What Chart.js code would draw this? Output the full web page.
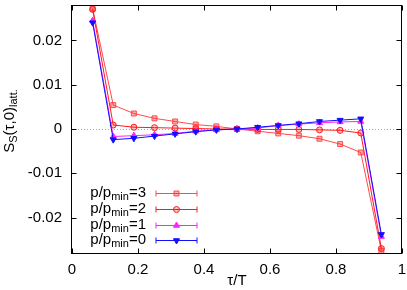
<!DOCTYPE html>
<html>
<head>
<meta charset="utf-8">
<script src="https://cdn.jsdelivr.net/npm/chart.js@4"></script>
<style>
  body { margin: 0; background: #fff; }
  canvas { display: block; }
</style>
</head>
<body>
<canvas id="corrChart" width="407" height="290"></canvas>
<script>
// tau/T values (n/16)
const tau = [0.0625, 0.125, 0.1875, 0.25, 0.3125, 0.375, 0.4375, 0.5,
             0.5625, 0.625, 0.6875, 0.75, 0.8125, 0.875, 0.9375];

// S_S(tau,0)_latt. for each momentum
const p3 = [0.0272, 0.0054, 0.0035, 0.0024, 0.0017, 0.0010, 0.0006, 0.0000,
            -0.0005, -0.0010, -0.0015, -0.0022, -0.0034, -0.0053, -0.0275];
const p2 = [0.0270, 0.0009, 0.0004, 0.0003, 0.0002, 0.0001, 0.0000, 0.0000,
            -0.0001, -0.0001, -0.0001, -0.0002, -0.0003, -0.0009, -0.0270];
const p1 = [0.0245, -0.0017, -0.0015, -0.0013, -0.0010, -0.0005, -0.0002, 0.0000,
            0.0002, 0.0008, 0.0011, 0.0014, 0.0016, 0.0017, -0.0243];
const p0 = [0.0240, -0.0024, -0.0021, -0.0016, -0.0011, -0.0006, -0.0002, 0.0000,
            0.0004, 0.0008, 0.0012, 0.0017, 0.0020, 0.0023, -0.0238];

const seriesLabels = ["3", "2", "1", "0"];
const xTicks = [0, 0.2, 0.4, 0.6, 0.8, 1];
const yTicks = [-0.02, -0.01, 0, 0.01, 0.02];

const FONT = "'Liberation Sans', Arial, sans-serif";

function makeSet(label, values, color, fill, style, rot) {
    return {
        label: label,
        data: tau.map((t, i) => ({ x: t, y: values[i] })),
        borderColor: color,
        backgroundColor: fill,
        borderWidth: 1,
        pointStyle: style,
        pointRotation: rot,
        pointRadius: style === "triangle" ? 3.5 : (style === "rect" ? 3.5 : 3),
        pointBorderWidth: 1,
        pointBorderColor: color,
        pointBackgroundColor: fill,
        tension: 0
    };
}

// draw order: first dataset ends on top
const datasets = [
    makeSet("0", p0, "#1010ff", "#1010ff", "triangle", 180),
    makeSet("1", p1, "#ff22ff", "#ff22ff", "triangle", 0),
    makeSet("2", p2, "#ff1a1a", "rgba(255,0,0,0.25)", "circle", 0),
    makeSet("3", p3, "#ff4a4a", "rgba(255,0,0,0.3)", "rect", 0)
];

// frame, inward ticks, zero line, legend and y title
const decorations = {
    id: "decorations",
    beforeDatasetsDraw(chart) {
        const { ctx, chartArea: a, scales } = chart;
        const y0 = Math.round(scales.y.getPixelForValue(0)) + 0.5;
        ctx.save();
        ctx.strokeStyle = "#a8a8a8";
        ctx.lineWidth = 1;
        ctx.setLineDash([1, 2]);
        ctx.beginPath();
        ctx.moveTo(a.left, y0);
        ctx.lineTo(a.right, y0);
        ctx.stroke();
        ctx.restore();
    },
    afterDraw(chart) {
        const { ctx, chartArea: a, scales } = chart;
        const L = Math.round(a.left) - 0.5, R = Math.round(a.right) - 0.5;
        const T = Math.round(a.top) + 0.5, B = Math.round(a.bottom) + 0.5;
        ctx.save();
        ctx.strokeStyle = "#000";
        ctx.lineWidth = 1;
        ctx.strokeRect(L, T, R - L, B - T);
        ctx.beginPath();
        xTicks.forEach(v => {
            const px = Math.round(scales.x.getPixelForValue(v)) + 0.5;
            ctx.moveTo(px, B); ctx.lineTo(px, B - 5);
            ctx.moveTo(px, T); ctx.lineTo(px, T + 5);
        });
        yTicks.forEach(v => {
            const py = Math.round(scales.y.getPixelForValue(v)) + 0.5;
            ctx.moveTo(L, py); ctx.lineTo(L + 5, py);
            ctx.moveTo(R, py); ctx.lineTo(R - 5, py);
        });
        ctx.stroke();

        // legend
        const rowsFromBottom = [60, 44, 28, 13];
        const order = [3, 2, 1, 0]; // dataset index for p=3,2,1,0
        ctx.fillStyle = "#000";
        ctx.textBaseline = "middle";
        seriesLabels.forEach((lab, k) => {
            const ds = chart.data.datasets[order[k]];
            const yy = a.bottom - rowsFromBottom[k];
            let xr = a.left + 74;
            ctx.textAlign = "right";
            ctx.font = "15px " + FONT;
            const tail = "=" + lab;
            ctx.fillText(tail, xr, yy);
            xr -= ctx.measureText(tail).width;
            ctx.font = "11px " + FONT;
            ctx.fillText("min", xr, yy + 4);
            xr -= ctx.measureText("min").width;
            ctx.font = "15px " + FONT;
            ctx.fillText("p/p", xr, yy);

            const x1 = a.left + 84, x2 = a.left + 125, ly = Math.round(yy) + 0.5;
            ctx.strokeStyle = ds.borderColor;
            ctx.lineWidth = 1;
            ctx.beginPath();
            ctx.moveTo(x1, ly); ctx.lineTo(x2, ly);
            ctx.moveTo(x1, ly - 3); ctx.lineTo(x1, ly + 3);
            ctx.moveTo(x2, ly - 3); ctx.lineTo(x2, ly + 3);
            ctx.stroke();
            ctx.fillStyle = ds.pointBackgroundColor;
            Chart.helpers.drawPoint(ctx, {
                pointStyle: ds.pointStyle,
                rotation: ds.pointRotation,
                radius: ds.pointRadius,
                borderWidth: 1
            }, (x1 + x2) / 2, ly);
            ctx.fillStyle = "#000";
        });

        // y axis title with subscripts
        ctx.translate(10, 121);
        ctx.rotate(-Math.PI / 2);
        const parts = [["S", 15, 0], ["S", 11, 4], ["(\u03c4,0)", 15, 0], ["latt.", 11, 4]];
        let total = 0;
        parts.forEach(p => { ctx.font = p[1] + "px " + FONT; total += ctx.measureText(p[0]).width; });
        let xx = -total / 2;
        ctx.textAlign = "left";
        ctx.fillStyle = "#000";
        parts.forEach(p => {
            ctx.font = p[1] + "px " + FONT;
            ctx.fillText(p[0], xx, p[2]);
            xx += ctx.measureText(p[0]).width;
        });
        ctx.restore();
    }
};

new Chart(document.getElementById("corrChart"), {
    type: "line",
    data: { datasets: datasets },
    options: {
        responsive: false,
        animation: false,
        events: [],
        layout: { padding: { top: 0, right: 3, bottom: 0, left: 0 } },
        plugins: { legend: { display: false }, tooltip: { enabled: false } },
        scales: {
            x: {
                type: "linear",
                min: 0,
                max: 1,
                afterBuildTicks: s => { s.ticks = xTicks.map(v => ({ value: v })); },
                afterFit: s => { s.height = 37; s.paddingLeft = 0; s.paddingRight = 0; },
                grid: { display: false, drawTicks: false },
                border: { display: false },
                ticks: {
                    padding: 8,
                    maxRotation: 0,
                    autoSkip: false,
                    color: "#000",
                    font: { family: FONT, size: 15 },
                    callback: v => String(v)
                },
                title: {
                    display: true,
                    text: "\u03c4/T",
                    color: "#000",
                    padding: { top: 0, bottom: 0 },
                    font: { family: FONT, size: 15 }
                }
            },
            y: {
                min: -0.028,
                max: 0.028,
                afterBuildTicks: s => { s.ticks = yTicks.map(v => ({ value: v })); },
                afterFit: s => { s.width = 72; s.paddingTop = 0; s.paddingBottom = 0; },
                grid: { display: false, drawTicks: false },
                border: { display: false },
                ticks: {
                    padding: 10,
                    autoSkip: false,
                    color: "#000",
                    font: { family: FONT, size: 15 },
                    callback: v => String(Math.round(v * 100) / 100)
                }
            }
        }
    },
    plugins: [decorations]
});
</script>
</body>
</html>
